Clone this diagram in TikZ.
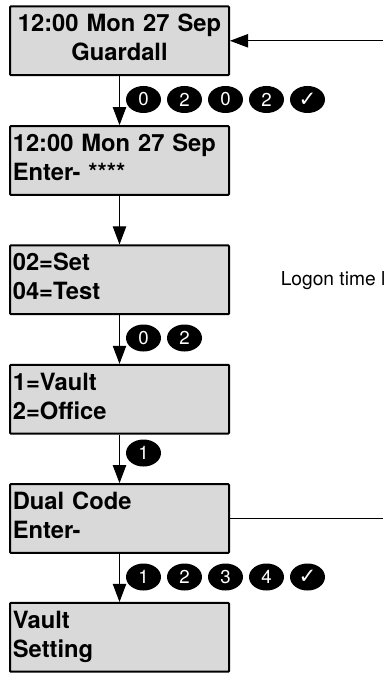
\documentclass[tikz,border=0pt]{standalone}
\usepackage{fontspec}
\setmainfont{TeX Gyre Heros}
\newfontfamily\symfont{DejaVu Sans}
\usetikzlibrary{arrows.meta,shapes.geometric}
\newcommand{\ls}{\vrule width 0pt height 15pt depth 6.75pt\relax}
\definecolor{lcdgray}{HTML}{D9D9D9}
\tikzset{
  lcd/.style={draw=black,fill=lcdgray,line width=1.5pt,rounded corners=0.6pt,
    minimum width=164.25pt,minimum height=51.5pt,inner sep=0pt,
    text width=160pt,font=\fontsize{17.8}{21.75}\selectfont\bfseries},
  lcdl/.style={lcd,align=left},
  lcdc/.style={lcd,align=center},
  flow/.style={draw=black,line width=0.75pt,-{Triangle[length=13.5pt,width=10pt]}},
  plain/.style={draw=black,line width=0.75pt},
  key/.style={ellipse,fill=black,text=white,minimum width=26.25pt,minimum height=20.25pt,
    inner sep=0pt,font=\fontsize{14}{14}\selectfont},
  note/.style={anchor=base west,inner sep=0pt,font=\fontsize{14.4}{16}\selectfont}
}
\begin{document}
\begin{tikzpicture}[x=0.75pt,y=-0.75pt]
\clip (0,0) rectangle (383,673);
\node[lcdc] (b1) at (119.5,40.8) {\ls 12:00 Mon 27 Sep\\\ls Guardall};
\node[lcdl] (b2) at (119.5,160.5) {\ls 12:00 Mon 27 Sep\\\ls Enter- ****};
\node[lcdl] (b3) at (119.5,279.8) {\ls 02=Set\\\ls 04=Test};
\node[lcdl] (b4) at (119.5,399.2) {\ls 1=Vault\\\ls 2=Office};
\node[lcdl] (b5) at (119.5,518.5) {\ls Dual Code\\\ls Enter-};
\node[lcdl] (b6) at (119.5,637.3) {\ls Vault\\\ls Setting};
\coordinate (inR) at (383,40.8);
\coordinate (outR) at (383,518.5);
\draw[flow] (inR) -- (b1.east);
\draw[plain] (b5.east) -- (outR);
\draw[flow] (b1.south) -- (b2.north);
\draw[flow] (b2.south) -- (b3.north);
\draw[flow] (b3.south) -- (b4.north);
\draw[flow] (b4.south) -- (b5.north);
\draw[flow] (b5.south) -- (b6.north);
\node[key] (a1) at (143.5,99.5) {0};
\node[key] (a2) at (184.5,99.5) {2};
\node[key] (a3) at (225.5,99.5) {0};
\node[key] (a4) at (266.5,99.5) {2};
\node[key] (a5) at (307.5,99.5) {\fontsize{16}{16}\selectfont\symfont ✓};
\node[key] (c1) at (143.5,338) {0};
\node[key] (c2) at (184.5,338) {2};
\node[key] (d1) at (143.5,453) {1};
\node[key] (e1) at (143.5,577) {1};
\node[key] (e2) at (184.5,577) {2};
\node[key] (e3) at (225.5,577) {3};
\node[key] (e4) at (266.5,577) {4};
\node[key] (e5) at (307.5,577) {\fontsize{16}{16}\selectfont\symfont ✓};
\node[note] (t1) at (280.5,285) {Logon time l};
\end{tikzpicture}
\end{document}
